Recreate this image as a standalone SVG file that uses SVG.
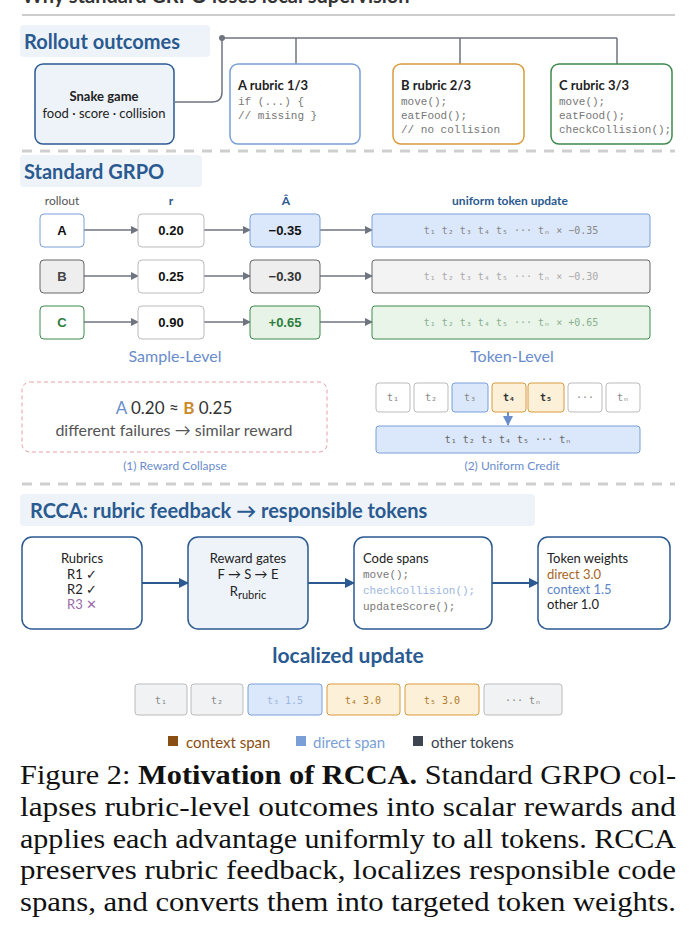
<svg xmlns="http://www.w3.org/2000/svg" width="696" height="951" viewBox="0 0 696 951">
<style>
.h{font-family:"Lato","Open Sans",sans-serif;font-weight:bold;fill:#2a5a90;font-size:20px}
.hb{fill:#eef3f9}
.s{font-family:"Lato","Open Sans",sans-serif;font-size:13px;fill:#222}
.b{font-weight:bold}
.m{font-family:"Liberation Mono",monospace;font-size:11px;fill:#777}
.n{font-family:"Liberation Sans",Arial,sans-serif;font-weight:bold;font-size:13px;fill:#111}
.c{stroke:#6f7580;stroke-width:1.5;fill:none}
.dash{stroke:#cfcfcf;stroke-width:3;stroke-dasharray:10,8}
.tk{font-family:"DejaVu Sans Mono",monospace;font-size:10px;fill:#888}
.cap{font-family:"Liberation Serif","Times New Roman",serif;font-size:27px;fill:#111}
</style>
<defs>
<marker id="ar" markerWidth="8" markerHeight="8" refX="7" refY="4" orient="auto" markerUnits="userSpaceOnUse"><path d="M0,0 L8,4 L0,8z" fill="#6f7580"/></marker>
<marker id="ab" markerWidth="10" markerHeight="10" refX="9" refY="5" orient="auto" markerUnits="userSpaceOnUse"><path d="M0,0 L10,5 L0,10z" fill="#2a5a90"/></marker>
<marker id="al" markerWidth="10" markerHeight="10" refX="9" refY="5" orient="auto" markerUnits="userSpaceOnUse"><path d="M0,0 L10,5 L0,10z" fill="#6a8ccc"/></marker>
</defs>
<text x="22" y="3" class="h" style="fill:#333">Why standard GRPO loses local supervision</text>
<line x1="22" y1="15" x2="675" y2="15" stroke="#bbb" stroke-width="1.5"/>
<rect class="hb" x="20" y="25" width="190" height="32" rx="4"/>
<text class="h" x="24" y="49">Rollout outcomes</text>
<g id="connectors">
<path class="c" d="M175,102 H212 Q222,102 222,92 V38 H617 M296,38 V64 M460,38 V64 M617,38 V64"/>
<circle cx="222" cy="38" r="3" fill="#6f7580"/>
<g class="c" marker-end="url(#ar)">
<line x1="84" y1="230" x2="138" y2="230"/><line x1="204" y1="230" x2="250" y2="230"/><line x1="320" y1="230" x2="372" y2="230"/>
<line x1="84" y1="276" x2="138" y2="276"/><line x1="204" y1="276" x2="250" y2="276"/><line x1="320" y1="276" x2="372" y2="276"/>
<line x1="84" y1="322" x2="138" y2="322"/><line x1="204" y1="322" x2="250" y2="322"/><line x1="320" y1="322" x2="372" y2="322"/>
</g>
<path stroke="#6a8ccc" stroke-width="2" marker-end="url(#al)" d="M508,412 V425"/>
<g stroke="#2a5a90" stroke-width="2" marker-end="url(#ab)">
<line x1="142" y1="583" x2="188" y2="583"/><line x1="308" y1="583" x2="354" y2="583"/><line x1="492" y1="583" x2="538" y2="583"/>
</g>
</g>
<g id="snake"><rect x="35" y="64" width="139" height="80" rx="8" fill="#eef3f9" stroke="#2a5a90" stroke-width="1.5"/>
<text class="s b" x="104" y="101" text-anchor="middle">Snake game</text><text class="s" x="104" y="118" text-anchor="middle">food · score · collision</text></g>
<g id="roA"><rect x="230" y="64" width="130" height="80" rx="8" fill="#fff" stroke="#7a9fd6" stroke-width="1.5"/>
<text class="s b" x="238" y="90">A rubric 1/3</text><text class="m" x="238" y="105">if (...) {</text><text class="m" x="238" y="119">// missing }</text></g>
<g id="roB"><rect x="393" y="64" width="131" height="80" rx="8" fill="#fff" stroke="#d99a3c" stroke-width="1.5"/>
<text class="s b" x="401" y="90">B rubric 2/3</text><text class="m" x="401" y="105">move();</text><text class="m" x="401" y="119">eatFood();</text><text class="m" x="401" y="133">// no collision</text></g>
<g id="roC"><rect x="551" y="64" width="121" height="80" rx="8" fill="#fff" stroke="#3e8a4e" stroke-width="1.5"/>
<text class="s b" x="559" y="90">C rubric 3/3</text><text class="m" x="559" y="105">move();</text><text class="m" x="559" y="119">eatFood();</text><text class="m" x="559" y="133">checkCollision();</text></g>
<line class="dash" x1="22" y1="151" x2="675" y2="151"/>
<rect class="hb" x="20" y="155" width="182" height="32" rx="4"/>
<text class="h" x="24" y="179">Standard GRPO</text>
<g font-family="Lato,sans-serif" font-size="12" text-anchor="middle"><text x="62" y="205" fill="#555">rollout</text><text x="171" y="205" fill="#2a5a90" font-weight="bold">r</text><text x="286" y="205" fill="#2a5a90" font-weight="bold">Â</text><text x="510" y="205" fill="#2a5a90" font-weight="bold">uniform token update</text></g>
<g id="rowA"><rect x="40" y="214" width="44" height="33" rx="4" fill="#fff" stroke="#7a9fd6"/><text class="n" x="62" y="235" text-anchor="middle">A</text>
<rect x="138" y="214" width="66" height="33" rx="4" fill="#fff" stroke="#bbb"/><text class="n" x="171" y="235" text-anchor="middle">0.20</text>
<rect x="250" y="214" width="70" height="33" rx="4" fill="#dbe7fa" stroke="#7a9fd6"/><text class="n" x="285" y="235" text-anchor="middle">−0.35</text>
<rect x="372" y="214" width="278" height="33" rx="3" fill="#dbe7fa" stroke="#7a9fd6"/><text class="tk" x="511" y="234" text-anchor="middle">t₁ t₂ t₃ t₄ t₅ ··· tₙ × −0.35</text></g>
<g id="rowB"><rect x="40" y="260" width="44" height="33" rx="4" fill="#eee" stroke="#666"/><text class="n" x="62" y="281" text-anchor="middle" style="fill:#444">B</text>
<rect x="138" y="260" width="66" height="33" rx="4" fill="#fff" stroke="#bbb"/><text class="n" x="171" y="281" text-anchor="middle">0.25</text>
<rect x="250" y="260" width="70" height="33" rx="4" fill="#eee" stroke="#666"/><text class="n" x="285" y="281" text-anchor="middle" style="fill:#333">−0.30</text>
<rect x="372" y="260" width="278" height="33" rx="3" fill="#f3f3f3" stroke="#666"/><text class="tk" x="511" y="280" text-anchor="middle" style="fill:#aaa">t₁ t₂ t₃ t₄ t₅ ··· tₙ × −0.30</text></g>
<g id="rowC"><rect x="40" y="306" width="44" height="33" rx="4" fill="#fff" stroke="#3e8a4e"/><text class="n" x="62" y="327" text-anchor="middle" style="fill:#2e7d3e">C</text>
<rect x="138" y="306" width="66" height="33" rx="4" fill="#fff" stroke="#bbb"/><text class="n" x="171" y="327" text-anchor="middle">0.90</text>
<rect x="250" y="306" width="70" height="33" rx="4" fill="#e6f3e6" stroke="#3e8a4e"/><text class="n" x="285" y="327" text-anchor="middle" style="fill:#2e7d3e">+0.65</text>
<rect x="372" y="306" width="278" height="33" rx="3" fill="#e9f5e9" stroke="#3e8a4e"/><text class="tk" x="511" y="326" text-anchor="middle" style="fill:#8ab08f">t₁ t₂ t₃ t₄ t₅ ··· tₙ × +0.65</text></g>
<g font-family="Lato,sans-serif" font-size="16" fill="#6a8ccc" text-anchor="middle"><text x="175" y="362">Sample-Level</text><text x="512" y="362">Token-Level</text></g>
<g id="collapse"><rect x="22" y="382" width="305" height="70" rx="8" fill="#fff" stroke="#e8a0a8" stroke-dasharray="4,3"/>
<text x="174" y="414" text-anchor="middle" font-family="Lato,sans-serif" font-size="17" fill="#333"><tspan fill="#6a8ccc">A</tspan> 0.20 ≈ <tspan fill="#c98a2a" font-weight="bold">B</tspan> 0.25</text>
<text x="174" y="436" text-anchor="middle" font-family="Lato,sans-serif" font-size="16" fill="#555">different failures → similar reward</text>
<text x="175" y="470" text-anchor="middle" font-family="Lato,sans-serif" font-size="12" fill="#6a8ccc">(1) Reward Collapse</text></g>
<g id="uniform">
<rect x="376" y="383" width="34" height="29" rx="3" fill="#fff" stroke="#bbb"/><text class="tk" x="393" y="401" text-anchor="middle">t₁</text>
<rect x="414" y="383" width="34" height="29" rx="3" fill="#fff" stroke="#bbb"/><text class="tk" x="431" y="401" text-anchor="middle">t₂</text>
<rect x="452" y="383" width="36" height="29" rx="3" fill="#dbe7fa" stroke="#7a9fd6"/><text class="tk" x="470" y="401" text-anchor="middle">t₃</text>
<rect x="492" y="383" width="34" height="29" rx="3" fill="#fdf0d8" stroke="#d99a3c"/><text class="tk" x="509" y="401" text-anchor="middle" style="fill:#333;font-weight:bold">t₄</text>
<rect x="528" y="383" width="36" height="29" rx="3" fill="#fdf0d8" stroke="#d99a3c"/><text class="tk" x="546" y="401" text-anchor="middle" style="fill:#333;font-weight:bold">t₅</text>
<rect x="568" y="383" width="34" height="29" rx="3" fill="#fff" stroke="#bbb"/><text class="tk" x="585" y="401" text-anchor="middle">···</text>
<rect x="606" y="383" width="34" height="29" rx="3" fill="#fff" stroke="#bbb"/><text class="tk" x="623" y="401" text-anchor="middle">tₙ</text>
<rect x="376" y="426" width="264" height="27" rx="3" fill="#dbe7fa" stroke="#7a9fd6"/><text class="tk" x="508" y="443" text-anchor="middle" style="fill:#666">t₁ t₂ t₃ t₄ t₅ ··· tₙ</text>
<text x="512" y="470" text-anchor="middle" font-family="Lato,sans-serif" font-size="12" fill="#6a8ccc">(2) Uniform Credit</text></g>
<line class="dash" x1="22" y1="484" x2="675" y2="484"/>
<rect class="hb" x="20" y="494" width="515" height="32" rx="4"/>
<text class="h" x="30" y="518">RCCA: rubric feedback → responsible tokens</text>
<g id="rubrics"><rect x="22" y="537" width="120" height="92" rx="10" fill="#fff" stroke="#2a5a90" stroke-width="1.5"/>
<g class="s" text-anchor="middle"><text x="82" y="563">Rubrics</text><text x="82" y="579">R1 ✓</text><text x="82" y="594">R2 ✓</text><text x="82" y="609" fill="#9a6aaa">R3 ✕</text></g></g>
<g id="gates"><rect x="188" y="537" width="120" height="92" rx="10" fill="#eef3f9" stroke="#2a5a90" stroke-width="1.5"/>
<g class="s" text-anchor="middle"><text x="248" y="563">Reward gates</text><text x="248" y="579">F → S → E</text><text x="248" y="596">R<tspan font-size="11" dy="3">rubric</tspan></text></g></g>
<g id="spans"><rect x="354" y="537" width="138" height="92" rx="10" fill="#fff" stroke="#2a5a90" stroke-width="1.5"/>
<text class="s" x="363" y="563">Code spans</text><text class="m" x="363" y="578">move();</text><text class="m" x="363" y="594" style="fill:#9bb6e0">checkCollision();</text><text class="m" x="363" y="610">updateScore();</text></g>
<g id="weights"><rect x="538" y="537" width="132" height="92" rx="10" fill="#fff" stroke="#2a5a90" stroke-width="1.5"/>
<g class="s"><text x="547" y="563">Token weights</text><text x="547" y="579" fill="#a5651f">direct 3.0</text><text x="547" y="594" fill="#5b85c8">context 1.5</text><text x="547" y="609">other 1.0</text></g></g>
<text class="h" x="348" y="663" text-anchor="middle" style="font-size:21px">localized update</text>
<g id="localized">
<rect x="135" y="684" width="52" height="31" rx="3" fill="#f1f2f4" stroke="#bbb"/><text class="tk" x="161" y="704" text-anchor="middle">t₁</text>
<rect x="191" y="684" width="52" height="31" rx="3" fill="#f1f2f4" stroke="#bbb"/><text class="tk" x="217" y="704" text-anchor="middle">t₂</text>
<rect x="248" y="684" width="74" height="31" rx="3" fill="#dbe7fa" stroke="#7a9fd6"/><text class="tk" x="285" y="704" text-anchor="middle" style="fill:#9bb6e0">t₃ 1.5</text>
<rect x="327" y="684" width="73" height="31" rx="3" fill="#fdf0d8" stroke="#d99a3c"/><text class="tk" x="363" y="704" text-anchor="middle" style="fill:#b07a2a">t₄ 3.0</text>
<rect x="405" y="684" width="74" height="31" rx="3" fill="#fdf0d8" stroke="#d99a3c"/><text class="tk" x="442" y="704" text-anchor="middle" style="fill:#b07a2a">t₅ 3.0</text>
<rect x="484" y="684" width="78" height="31" rx="3" fill="#f1f2f4" stroke="#bbb"/><text class="tk" x="523" y="704" text-anchor="middle">··· tₙ</text></g>
<g id="legend" font-family="Lato,sans-serif" font-size="15">
<rect x="168" y="736" width="10" height="10" fill="#8a4e12"/><text x="186" y="748" fill="#8a4e12">context span</text>
<rect x="296" y="736" width="10" height="10" fill="#7a9fd6"/><text x="313" y="748" fill="#7a9fd6">direct span</text>
<rect x="413" y="736" width="10" height="10" fill="#3e4450"/><text x="431" y="748" fill="#3e4450">other tokens</text></g>
<g class="cap"><text x="20" y="784" textLength="656" lengthAdjust="spacingAndGlyphs">Figure 2: <tspan font-weight="bold">Motivation of RCCA.</tspan> Standard GRPO col-</text>
<text x="20" y="816" textLength="656" lengthAdjust="spacingAndGlyphs">lapses rubric-level outcomes into scalar rewards and</text>
<text x="20" y="848" textLength="656" lengthAdjust="spacingAndGlyphs">applies each advantage uniformly to all tokens. RCCA</text>
<text x="20" y="879" textLength="656" lengthAdjust="spacingAndGlyphs">preserves rubric feedback, localizes responsible code</text>
<text x="20" y="911" textLength="656" lengthAdjust="spacingAndGlyphs">spans, and converts them into targeted token weights.</text></g>
</svg>
